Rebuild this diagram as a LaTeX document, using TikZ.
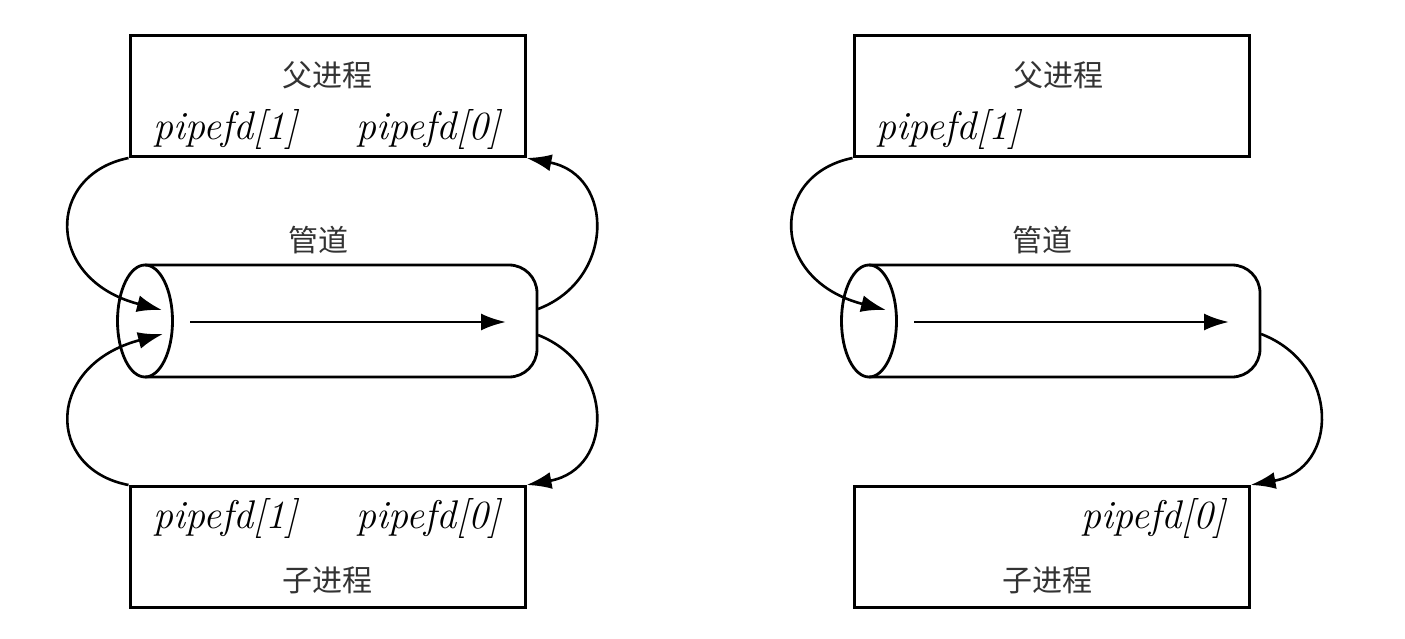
\documentclass[tikz,border=0pt]{standalone}
\usepackage{fontspec}
\newfontfamily\cjk{Noto Sans CJK SC}
\usetikzlibrary{arrows.meta,shapes.geometric}
\tikzset{
  procbox/.style={draw, line width=3pt, minimum width=395pt, minimum height=121pt, inner sep=0pt},
  pipebody/.style={line width=2.8pt, rounded corners=28pt},
  pipeend/.style={draw, ellipse, line width=2.8pt, minimum width=55pt, minimum height=112pt, inner sep=0pt},
  flow/.style={line width=2.6pt, -{Latex[length=25pt,width=17pt]}},
  cjklabel/.style={font=\cjk\fontsize{30}{30}\selectfont, text=black!80},
  fdlabel/.style={font=\fontsize{40}{42}\selectfont\itshape, anchor=base west, inner sep=0pt}
}
\begin{document}
\begin{tikzpicture}[x=1pt,y=-1pt]
\useasboundingbox[fill=white] (0,0) rectangle (1405,639);

% ---------- left diagram ----------
\node[procbox] (parentL) at (327.5,96) {};
\node[procbox] (childL) at (327.5,547) {};
\node[cjklabel] (pnameL) at (327,75) {父进程};
\node[cjklabel] (cnameL) at (327,580) {子进程};
\node[fdlabel] (pfd1L) at (153,140) {pipefd[1]};
\node[fdlabel] (pfd0L) at (356,140) {pipefd[0]};
\node[fdlabel] (cfd1L) at (153,528) {pipefd[1]};
\node[fdlabel] (cfd0L) at (356,528) {pipefd[0]};
\node[cjklabel] (pipeL) at (318,240) {管道};

\draw[pipebody] (145,265) -- (537,265) -- (537,377) -- (145,377);
\node[pipeend] (endL) at (145,321) {};
\coordinate (inL) at (190,322);
\coordinate (outL) at (506,322);
\draw[flow] (inL) -- (outL);

\coordinate (wtopL) at (162,310);
\coordinate (wbotL) at (163,334);
\coordinate (rtopL) at (538,309);
\coordinate (rbotL) at (538,335);

\draw[flow] (parentL.south west) .. controls (45,175) and (45,280) .. (wtopL);
\draw[flow] (childL.north west) .. controls (45,469) and (45,365) .. (wbotL);
\draw[flow] (rtopL) .. controls (615,280) and (615,175) .. (parentL.south east);
\draw[flow] (rbotL) .. controls (615,365) and (615,469) .. (childL.north east);

% ---------- right diagram ----------
\node[procbox] (parentR) at (1051.5,96) {};
\node[procbox] (childR) at (1051.5,547) {};
\node[cjklabel] (pnameR) at (1058,75) {父进程};
\node[cjklabel] (cnameR) at (1047,580) {子进程};
\node[fdlabel] (pfd1R) at (876,140) {pipefd[1]};
\node[fdlabel] (cfd0R) at (1081,528) {pipefd[0]};
\node[cjklabel] (pipeR) at (1042,240) {管道};

\draw[pipebody] (869,265) -- (1260,265) -- (1260,377) -- (869,377);
\node[pipeend] (endR) at (869,321) {};
\coordinate (inR) at (914,322);
\coordinate (outR) at (1229,322);
\draw[flow] (inR) -- (outR);

\coordinate (wtopR) at (886,310);
\coordinate (rbotR) at (1261,334);

\draw[flow] (parentR.south west) .. controls (769,175) and (769,280) .. (wtopR);
\draw[flow] (rbotR) .. controls (1340,364) and (1340,469) .. (childR.north east);
\end{tikzpicture}
\end{document}
